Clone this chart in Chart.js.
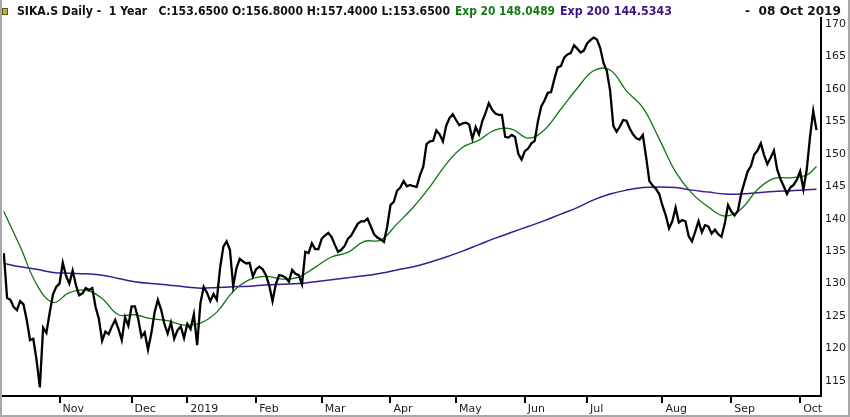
<!DOCTYPE html>
<html>
<head>
<meta charset="utf-8">
<title>SIKA.S Daily - 1 Year</title>
<script src="https://cdn.jsdelivr.net/npm/chart.js@4.4.1/dist/chart.umd.min.js"></script>
<style>
  html, body { margin: 0; padding: 0; background: #fff; }
  #wrap { position: relative; width: 850px; height: 417px; overflow: hidden; }
  #graph { position: absolute; left: 0; top: 0; }
  .hd { position: absolute; top: 4px; height: 14px; line-height: 14px; font-family: "DejaVu Sans", sans-serif;
        font-weight: bold; font-size: 12.5px; white-space: pre; transform-origin: 0 0; }
  .icon { position: absolute; left: 2px; top: 8px; width: 4px; height: 5px; background: #b8b040; border: 1px solid #5a5a20; }
  #frame { position: absolute; left: 0; top: 0; width: 846px; height: 415px; border-left: 2px solid #a8a8a8;
           border-right: 2px solid #a8a8a8; border-bottom: 2px solid #a8a8a8; pointer-events: none; }
</style>
</head>
<body>
<div id="wrap">
  <canvas id="graph" width="850" height="417"></canvas>
  <div class="icon"></div>
  <span class="hd" style="left:17px;color:#111" data-w="433">SIKA.S Daily -  1 Year   C:153.6500 O:156.8000 H:157.4000 L:153.6500</span>
  <span class="hd" style="left:455px;color:#137a13" data-w="100">Exp 20 148.0489</span>
  <span class="hd" style="left:560px;color:#3a1786" data-w="112">Exp 200 144.5343</span>
  <span class="hd" style="left:745px;color:#111" data-w="96">-  08 Oct 2019</span>
  <div id="frame"></div>
</div>
<script>
// daily closes, one per trading day, 09 Oct 2018 .. 08 Oct 2019
const closes = [
  134.7, 127.8, 127.5, 126.4, 125.9, 127.3, 126.8, 124.4, 121.3, 121.5,
  118.2, 114.0, 123.2, 122.4, 125.5, 128.3, 129.5, 130.0, 133.2, 131.2,
  130.0, 132.0, 129.8, 128.2, 128.5, 129.3, 129.0, 129.3, 126.4, 124.6,
  121.2, 122.6, 122.2, 123.4, 124.4, 123.0, 121.3, 124.8, 123.5, 126.5,
  126.5, 124.6, 121.8, 122.5, 119.8, 122.3, 125.5, 127.5, 126.0, 123.8,
  122.3, 124.0, 121.5, 122.8, 123.4, 121.6, 123.8, 123.0, 125.3, 120.5,
  127.0, 129.5, 128.6, 127.3, 128.4, 127.5, 132.4, 135.7, 136.5, 135.2,
  129.6, 132.4, 133.8, 133.4, 133.1, 133.2, 131.1, 132.2, 132.6, 132.2,
  131.3, 129.7, 127.3, 129.9, 131.3, 131.2, 130.9, 130.3, 132.1, 131.5,
  131.3, 129.9, 134.9, 134.7, 136.2, 135.3, 135.3, 136.9, 137.4, 137.8,
  137.2, 136.0, 134.9, 135.2, 135.8, 136.9, 137.4, 138.3, 139.2, 139.6,
  139.6, 140.0, 138.8, 137.6, 137.1, 136.8, 136.4, 138.8, 142.1, 142.6,
  144.3, 144.8, 145.8, 145.0, 145.2, 145.0, 144.9, 146.7, 148.0, 151.5,
  151.9, 152.0, 153.6, 153.0, 151.9, 154.3, 155.5, 156.1, 155.2, 154.4,
  154.7, 154.8, 154.5, 152.3, 154.1, 153.0, 155.0, 156.3, 157.8, 156.8,
  156.2, 156.0, 156.0, 152.6, 152.5, 152.9, 152.6, 150.0, 149.1, 150.4,
  150.8, 151.6, 152.0, 155.0, 157.3, 158.2, 159.4, 159.5, 161.5, 163.3,
  163.5, 164.8, 165.3, 165.5, 166.7, 166.2, 165.6, 165.9, 167.0, 167.5,
  167.9, 167.6, 166.3, 164.0, 162.8, 159.8, 154.3, 153.4, 154.2, 155.2,
  155.1, 153.9, 153.0, 152.4, 152.2, 152.9, 149.5, 145.8, 145.1, 144.6,
  143.8, 142.0, 140.5, 138.5, 139.6, 141.7, 139.4, 139.8, 139.6, 137.3,
  136.5, 138.0, 139.6, 137.9, 139.0, 138.8, 137.7, 138.3, 137.6, 137.2,
  139.2, 142.1, 141.1, 140.5, 141.2, 143.8, 145.6, 147.3, 148.1, 149.9,
  150.5, 151.6, 149.8, 148.4, 149.4, 150.5, 147.6, 146.1, 145.0, 143.8,
  144.8, 145.2, 146.0, 147.3, 144.5, 147.5, 152.5, 156.6, 153.65
];

// moving averages read every 5th trading day
const emaIdx = [0, 5, 10, 15, 20, 25, 30, 35, 40, 45, 50, 55, 60, 65, 70, 75, 80, 85, 90, 95,
  100, 105, 110, 115, 120, 125, 130, 135, 140, 145, 150, 155, 160, 165, 170, 175, 180, 185, 190, 195,
  200, 205, 210, 215, 220, 225, 230, 235, 240, 245, 248];
const exp20 = [141.1, 135.7, 129.9, 127.1, 128.6, 129.0, 127.7, 125.2, 125.2, 124.6,
  124.3, 123.6, 123.9, 125.6, 128.8, 130.6, 131.1, 130.7, 131.0, 132.5,
  134.1, 134.8, 136.5, 136.7, 139.2, 141.8, 144.9, 148.4, 151.0, 152.1,
  153.7, 153.8, 152.4, 153.7, 156.9, 160.1, 162.8, 162.9, 159.7, 157.1,
  152.3, 147.2, 143.9, 141.8, 140.4, 141.5, 144.5, 146.2, 146.3, 146.7, 148.0489];
const exp200 = [133.1, 132.6, 132.2, 131.7, 131.6, 131.5, 131.3, 130.8, 130.3, 130.0,
  129.8, 129.5, 129.3, 129.4, 129.5, 129.6, 129.8, 129.9, 130.0, 130.3,
  130.6, 130.9, 131.2, 131.6, 132.1, 132.6, 133.3, 134.1, 135.0, 136.0,
  137.0, 137.9, 138.8, 139.7, 140.7, 141.7, 142.9, 143.8, 144.4, 144.8,
  144.9, 144.8, 144.4, 144.1, 143.8, 143.8, 144.0, 144.2, 144.3, 144.45, 144.5343];

// first trading day of each month
const tickIdx = [17, 39, 56, 77, 97, 118, 138, 159, 178, 201, 222, 243];
const tickLabels = ["Nov", "Dec", "2019", "Feb", "Mar", "Apr", "May", "Jun", "Jul", "Aug", "Sep", "Oct"];
const yTicks = [115, 120, 125, 130, 135, 140, 145, 150, 155, 160, 165, 170];

// squeeze header texts to the widths in the picture
document.querySelectorAll(".hd").forEach((s) => {
  const w = s.getBoundingClientRect().width;
  s.style.transform = `scaleX(${s.dataset.w / w})`;
});

const axisFont = { family: "DejaVu Sans", size: 11 };

const ctx = document.getElementById("graph").getContext("2d");
new Chart(ctx, {
  type: "line",
  data: {
    datasets: [
      {
        label: "Close",
        data: closes.map((v, i) => ({ x: i, y: v })),
        borderColor: "#000",
        borderWidth: 2.3,
        pointRadius: 0,
        tension: 0,
      },
      {
        label: "Exp 20",
        data: emaIdx.map((ix, k) => ({ x: ix, y: exp20[k] })),
        borderColor: "#0f740f",
        borderWidth: 1.3,
        pointRadius: 0,
        tension: 0.4,
      },
      {
        label: "Exp 200",
        data: emaIdx.map((ix, k) => ({ x: ix, y: exp200[k] })),
        borderColor: "#3a1a96",
        borderWidth: 1.5,
        pointRadius: 0,
        tension: 0.4,
      },
    ],
  },
  options: {
    responsive: false,
    animation: false,
    layout: { padding: { left: 3, top: 18, right: 0, bottom: 0 } },
    plugins: {
      legend: { display: false },
      tooltip: { enabled: false },
    },
    scales: {
      x: {
        type: "linear",
        min: -0.244,
        max: 249.37,
        afterBuildTicks: (scale) => {
          scale.ticks = tickIdx.map((v) => ({ value: v }));
        },
        afterFit: (scale) => {
          scale.height = 21;
        },
        ticks: {
          autoSkip: false,
          maxRotation: 0,
          align: "start",
          labelOffset: 3,
          padding: 0,
          color: "#1a1a1a",
          font: axisFont,
          callback: (val) => tickLabels[tickIdx.indexOf(val)],
        },
        grid: {
          display: true,
          drawOnChartArea: false,
          drawTicks: true,
          tickLength: 7,
          color: "#000",
          lineWidth: 2,
        },
        border: { display: true, color: "#000", width: 2 },
      },
      y: {
        position: "right",
        min: 112.68,
        max: 170.92,
        afterBuildTicks: (scale) => {
          scale.ticks = yTicks.map((v) => ({ value: v }));
        },
        afterFit: (scale) => {
          scale.width = 29;
        },
        ticks: {
          padding: 4,
          color: "#1a1a1a",
          font: axisFont,
        },
        grid: { display: false, drawTicks: false },
        border: { display: true, color: "#000", width: 2 },
      },
    },
  },
});
</script>
</body>
</html>
